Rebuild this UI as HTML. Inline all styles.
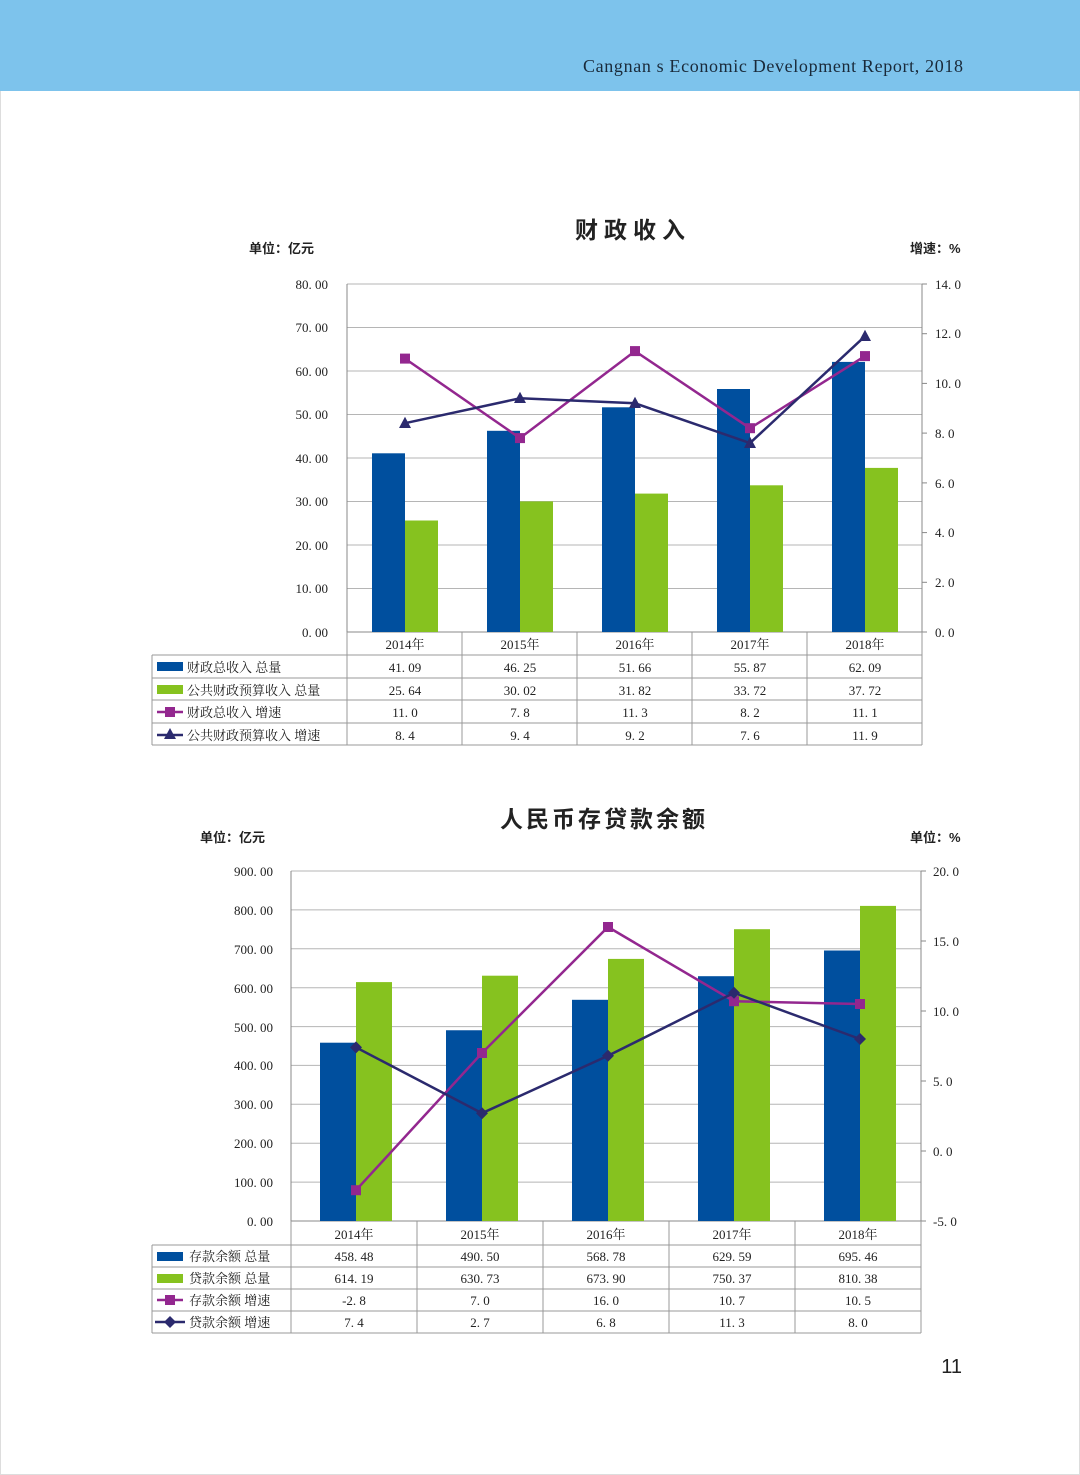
<!DOCTYPE html>
<html><head><meta charset="utf-8"><style>
html,body{margin:0;padding:0;background:#fff}
svg{display:block}
.s{font-family:"Liberation Serif","Noto Serif CJK SC",serif;font-size:13px;fill:#222}
.c{font-family:"Liberation Sans","Noto Sans CJK SC",sans-serif;font-size:13px;fill:#222}
</style></head><body>
<svg width="1080" height="1475" viewBox="0 0 1080 1475" xmlns="http://www.w3.org/2000/svg">
<rect x="0" y="0" width="1080" height="1475" fill="#fff"/>
<rect x="0.5" y="0.5" width="1079" height="1474" fill="none" stroke="#ddd"/>
<rect x="0" y="0" width="1080" height="91" fill="#7dc3ec"/>
<text x="583" y="72" textLength="380" lengthAdjust="spacing" style="font-family:'Liberation Serif',serif;font-size:18px;fill:#1a2a3a">Cangnan s  Economic  Development  Report,  2018</text>

<!-- Chart 1 -->
<text x="633" y="238" text-anchor="middle" style="font-family:'Noto Sans CJK SC',sans-serif;font-size:23px;font-weight:bold;fill:#222;letter-spacing:6px">财政收入</text>
<text x="249" y="253" class="c" style="font-weight:bold">单位：亿元</text>
<text x="910" y="253" class="c" style="font-weight:bold">增速：%</text>
<g stroke="#b5b5b5" stroke-width="1">
<line x1="347" y1="284" x2="922" y2="284"/><line x1="347" y1="327.5" x2="922" y2="327.5"/><line x1="347" y1="371" x2="922" y2="371"/><line x1="347" y1="414.5" x2="922" y2="414.5"/><line x1="347" y1="458" x2="922" y2="458"/><line x1="347" y1="501.5" x2="922" y2="501.5"/><line x1="347" y1="545" x2="922" y2="545"/><line x1="347" y1="588.5" x2="922" y2="588.5"/>
</g>
<g stroke="#888"><line x1="347" y1="284" x2="347" y2="632"/><line x1="922" y1="284" x2="922" y2="632"/><line x1="347" y1="632" x2="922" y2="632"/>
<line x1="922" y1="284" x2="927" y2="284"/><line x1="922" y1="333.7" x2="927" y2="333.7"/><line x1="922" y1="383.4" x2="927" y2="383.4"/><line x1="922" y1="433.1" x2="927" y2="433.1"/><line x1="922" y1="482.9" x2="927" y2="482.9"/><line x1="922" y1="532.6" x2="927" y2="532.6"/><line x1="922" y1="582.3" x2="927" y2="582.3"/><line x1="922" y1="632" x2="927" y2="632"/></g>
<g class="s" text-anchor="end">
<text x="328" y="289">80. 00</text><text x="328" y="332">70. 00</text><text x="328" y="376">60. 00</text><text x="328" y="419">50. 00</text><text x="328" y="463">40. 00</text><text x="328" y="506">30. 00</text><text x="328" y="550">20. 00</text><text x="328" y="593">10. 00</text><text x="328" y="637">0. 00</text></g>
<g class="s"><text x="935" y="289">14. 0</text><text x="935" y="338">12. 0</text><text x="935" y="388">10. 0</text><text x="935" y="438">8. 0</text><text x="935" y="488">6. 0</text><text x="935" y="537">4. 0</text><text x="935" y="587">2. 0</text><text x="935" y="637">0. 0</text></g>
<g fill="#004f9e"><rect x="372" y="453.3" width="33" height="178.7"/><rect x="487" y="430.8" width="33" height="201.2"/><rect x="602" y="407.3" width="33" height="224.7"/><rect x="717" y="389" width="33" height="243"/><rect x="832" y="361.9" width="33" height="270.1"/></g>
<g fill="#86c21f"><rect x="405" y="520.5" width="33" height="111.5"/><rect x="520" y="501.4" width="33" height="130.6"/><rect x="635" y="493.6" width="33" height="138.4"/><rect x="750" y="485.3" width="33" height="146.7"/><rect x="865" y="467.9" width="33" height="164.1"/></g>
<polyline points="405,358.6 520,438.1 635,351.1 750,428.2 865,356.1" fill="none" stroke="#93278f" stroke-width="2.5"/>
<g fill="#93278f"><rect x="400" y="353.6" width="10" height="10"/><rect x="515" y="433.1" width="10" height="10"/><rect x="630" y="346.1" width="10" height="10"/><rect x="745" y="423.2" width="10" height="10"/><rect x="860" y="351.1" width="10" height="10"/></g>
<polyline points="405,423.2 520,398.3 635,403.3 750,443.1 865,336.2" fill="none" stroke="#2b2a6e" stroke-width="2.5"/>
<g fill="#2b2a6e"><path d="M405 416.7 L411 428 L399 428Z"/><path d="M520 391.8 L526 403 L514 403Z"/><path d="M635 396.8 L641 408 L629 408Z"/><path d="M750 436.6 L756 448 L744 448Z"/><path d="M865 329.7 L871 341 L859 341Z"/></g>
<g stroke="#999" fill="none"><line x1="152" y1="655" x2="922" y2="655"/><line x1="152" y1="678" x2="922" y2="678"/><line x1="152" y1="700" x2="922" y2="700"/><line x1="152" y1="723" x2="922" y2="723"/><line x1="152" y1="745" x2="922" y2="745"/>
<line x1="152" y1="655" x2="152" y2="745"/><line x1="347" y1="632" x2="347" y2="745"/><line x1="462" y1="632" x2="462" y2="745"/><line x1="577" y1="632" x2="577" y2="745"/><line x1="692" y1="632" x2="692" y2="745"/><line x1="807" y1="632" x2="807" y2="745"/><line x1="922" y1="632" x2="922" y2="745"/></g>
<g class="s" text-anchor="middle">
<text x="405" y="649">2014年</text><text x="520" y="649">2015年</text><text x="635" y="649">2016年</text><text x="750" y="649">2017年</text><text x="865" y="649">2018年</text>
<text x="405" y="672">41. 09</text><text x="520" y="672">46. 25</text><text x="635" y="672">51. 66</text><text x="750" y="672">55. 87</text><text x="865" y="672">62. 09</text>
<text x="405" y="695">25. 64</text><text x="520" y="695">30. 02</text><text x="635" y="695">31. 82</text><text x="750" y="695">33. 72</text><text x="865" y="695">37. 72</text>
<text x="405" y="717">11. 0</text><text x="520" y="717">7. 8</text><text x="635" y="717">11. 3</text><text x="750" y="717">8. 2</text><text x="865" y="717">11. 1</text>
<text x="405" y="740">8. 4</text><text x="520" y="740">9. 4</text><text x="635" y="740">9. 2</text><text x="750" y="740">7. 6</text><text x="865" y="740">11. 9</text></g>
<rect x="157" y="662" width="26" height="9" fill="#004f9e"/><rect x="157" y="685" width="26" height="9" fill="#86c21f"/>
<line x1="157" y1="712" x2="183" y2="712" stroke="#93278f" stroke-width="2.5"/><rect x="165" y="707" width="10" height="10" fill="#93278f"/>
<line x1="157" y1="735" x2="183" y2="735" stroke="#2b2a6e" stroke-width="2.5"/><path d="M170 728 L176 739 L164 739Z" fill="#2b2a6e"/>
<g class="s"><text x="187" y="672">财政总收入  总量</text><text x="187" y="695">公共财政预算收入  总量</text><text x="187" y="717">财政总收入  增速</text><text x="187" y="740">公共财政预算收入  增速</text></g>

<!-- Chart 2 -->
<text x="604" y="827" text-anchor="middle" style="font-family:'Noto Sans CJK SC',sans-serif;font-size:23px;font-weight:bold;fill:#222;letter-spacing:3px">人民币存贷款余额</text>
<text x="200" y="842" class="c" style="font-weight:bold">单位：亿元</text>
<text x="910" y="842" class="c" style="font-weight:bold">单位：%</text>
<g stroke="#b5b5b5"><line x1="291" y1="871" x2="921" y2="871"/><line x1="291" y1="909.9" x2="921" y2="909.9"/><line x1="291" y1="948.8" x2="921" y2="948.8"/><line x1="291" y1="987.7" x2="921" y2="987.7"/><line x1="291" y1="1026.6" x2="921" y2="1026.6"/><line x1="291" y1="1065.4" x2="921" y2="1065.4"/><line x1="291" y1="1104.3" x2="921" y2="1104.3"/><line x1="291" y1="1143.2" x2="921" y2="1143.2"/><line x1="291" y1="1182.1" x2="921" y2="1182.1"/></g>
<g stroke="#888"><line x1="291" y1="871" x2="291" y2="1221"/><line x1="921" y1="871" x2="921" y2="1221"/><line x1="291" y1="1221" x2="921" y2="1221"/>
<line x1="921" y1="871" x2="926" y2="871"/><line x1="921" y1="941" x2="926" y2="941"/><line x1="921" y1="1011" x2="926" y2="1011"/><line x1="921" y1="1081" x2="926" y2="1081"/><line x1="921" y1="1151" x2="926" y2="1151"/><line x1="921" y1="1221" x2="926" y2="1221"/></g>
<g class="s" text-anchor="end">
<text x="273" y="876">900. 00</text><text x="273" y="915">800. 00</text><text x="273" y="954">700. 00</text><text x="273" y="993">600. 00</text><text x="273" y="1032">500. 00</text><text x="273" y="1070">400. 00</text><text x="273" y="1109">300. 00</text><text x="273" y="1148">200. 00</text><text x="273" y="1187">100. 00</text><text x="273" y="1226">0. 00</text></g>
<g class="s"><text x="933" y="876">20. 0</text><text x="933" y="946">15. 0</text><text x="933" y="1016">10. 0</text><text x="933" y="1086">5. 0</text><text x="933" y="1156">0. 0</text><text x="933" y="1226">-5. 0</text></g>
<g fill="#004f9e"><rect x="320" y="1042.7" width="36" height="178.3"/><rect x="446" y="1030.25" width="36" height="190.75"/><rect x="572" y="999.8" width="36" height="221.2"/><rect x="698" y="976.2" width="36" height="244.8"/><rect x="824" y="950.5" width="36" height="270.5"/></g>
<g fill="#86c21f"><rect x="356" y="982.1" width="36" height="238.9"/><rect x="482" y="975.7" width="36" height="245.3"/><rect x="608" y="958.9" width="36" height="262.1"/><rect x="734" y="929.2" width="36" height="291.8"/><rect x="860" y="905.9" width="36" height="315.1"/></g>
<polyline points="356,1190.2 482,1053 608,927 734,1001.2 860,1004" fill="none" stroke="#93278f" stroke-width="2.5"/>
<g fill="#93278f"><rect x="351" y="1185.2" width="10" height="10"/><rect x="477" y="1048" width="10" height="10"/><rect x="603" y="922" width="10" height="10"/><rect x="729" y="996.2" width="10" height="10"/><rect x="855" y="999" width="10" height="10"/></g>
<polyline points="356,1047.4 482,1113.2 608,1055.8 734,992.8 860,1039" fill="none" stroke="#2b2a6e" stroke-width="2.5"/>
<g fill="#2b2a6e"><path d="M356 1041.4 L362 1047.4 L356 1053.4 L350 1047.4Z"/><path d="M482 1107.2 L488 1113.2 L482 1119.2 L476 1113.2Z"/><path d="M608 1049.8 L614 1055.8 L608 1061.8 L602 1055.8Z"/><path d="M734 986.8 L740 992.8 L734 998.8 L728 992.8Z"/><path d="M860 1033 L866 1039 L860 1045 L854 1039Z"/></g>
<g stroke="#999" fill="none"><line x1="152" y1="1245" x2="921" y2="1245"/><line x1="152" y1="1267" x2="921" y2="1267"/><line x1="152" y1="1289" x2="921" y2="1289"/><line x1="152" y1="1311" x2="921" y2="1311"/><line x1="152" y1="1333" x2="921" y2="1333"/>
<line x1="152" y1="1245" x2="152" y2="1333"/><line x1="291" y1="1221" x2="291" y2="1333"/><line x1="417" y1="1221" x2="417" y2="1333"/><line x1="543" y1="1221" x2="543" y2="1333"/><line x1="669" y1="1221" x2="669" y2="1333"/><line x1="795" y1="1221" x2="795" y2="1333"/><line x1="921" y1="1221" x2="921" y2="1333"/></g>
<g class="s" text-anchor="middle">
<text x="354" y="1239">2014年</text><text x="480" y="1239">2015年</text><text x="606" y="1239">2016年</text><text x="732" y="1239">2017年</text><text x="858" y="1239">2018年</text>
<text x="354" y="1261">458. 48</text><text x="480" y="1261">490. 50</text><text x="606" y="1261">568. 78</text><text x="732" y="1261">629. 59</text><text x="858" y="1261">695. 46</text>
<text x="354" y="1283">614. 19</text><text x="480" y="1283">630. 73</text><text x="606" y="1283">673. 90</text><text x="732" y="1283">750. 37</text><text x="858" y="1283">810. 38</text>
<text x="354" y="1305">-2. 8</text><text x="480" y="1305">7. 0</text><text x="606" y="1305">16. 0</text><text x="732" y="1305">10. 7</text><text x="858" y="1305">10. 5</text>
<text x="354" y="1327">7. 4</text><text x="480" y="1327">2. 7</text><text x="606" y="1327">6. 8</text><text x="732" y="1327">11. 3</text><text x="858" y="1327">8. 0</text></g>
<rect x="157" y="1252" width="26" height="9" fill="#004f9e"/><rect x="157" y="1274" width="26" height="9" fill="#86c21f"/>
<line x1="157" y1="1300" x2="183" y2="1300" stroke="#93278f" stroke-width="2.5"/><rect x="165" y="1295" width="10" height="10" fill="#93278f"/>
<line x1="155" y1="1322" x2="185" y2="1322" stroke="#2b2a6e" stroke-width="2.5"/><path d="M170 1316 L176 1322 L170 1328 L164 1322Z" fill="#2b2a6e"/>
<g class="s"><text x="189" y="1261">存款余额  总量</text><text x="189" y="1283">贷款余额  总量</text><text x="189" y="1305">存款余额  增速</text><text x="189" y="1327">贷款余额  增速</text></g>
<text x="962" y="1373" text-anchor="end" style="font-family:'Liberation Sans',sans-serif;font-size:20px;fill:#222">11</text>
</svg>
</body></html>
